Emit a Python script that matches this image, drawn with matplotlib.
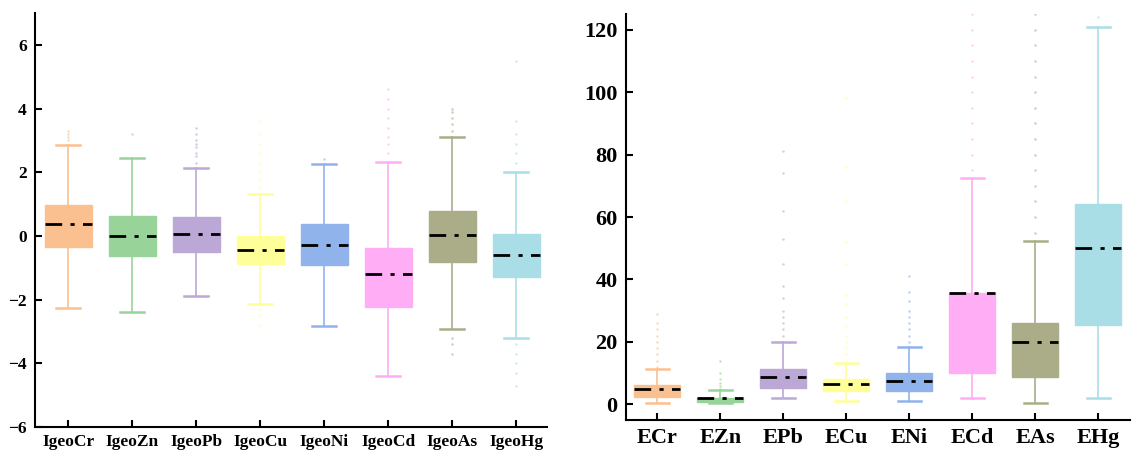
import numpy as np
import matplotlib.pyplot as plt

plt.rcParams['font.family'] = ['Liberation Serif', 'DejaVu Serif']
plt.rcParams['font.weight'] = 'bold'

# left panel: geo-accumulation index
igeo_names = ["IgeoCr", "IgeoZn", "IgeoPb", "IgeoCu", "IgeoNi", "IgeoCd", "IgeoAs", "IgeoHg"]
igeo_q1 = [-0.34, -0.62, -0.50, -0.87, -0.91, -2.22, -0.81, -1.28]
igeo_med = [0.37, 0.00, 0.06, -0.43, -0.29, -1.19, 0.03, -0.60]
igeo_q3 = [0.97, 0.62, 0.60, 0.00, 0.38, -0.38, 0.78, 0.06]
igeo_lo = [-2.25, -2.40, -1.90, -2.13, -2.84, -4.40, -2.93, -3.19]
igeo_hi = [2.86, 2.44, 2.13, 1.31, 2.25, 2.31, 3.10, 2.00]
igeo_out = [
    [3.0, 3.1, 3.2, 3.3],
    [3.2],
    [2.3, 2.5, 2.6, 2.8, 2.9, 3.0, 3.2, 3.4],
    [1.5, 1.8, 2.0, 2.3, 2.6, 2.9, 3.2, 3.6, -2.3, -2.5, -2.8],
    [2.4],
    [2.6, 2.9, 3.1, 3.4, 3.7, 4.0, 4.3, 4.6],
    [3.3, 3.5, 3.7, 3.9, 4.0, -3.2, -3.4, -3.7],
    [2.3, 2.6, 2.9, 3.2, 3.6, 5.5, -3.4, -3.7, -4.0, -4.3, -4.7],
]

# right panel: ecological risk factor
er_names = ["ECr", "EZn", "EPb", "ECu", "ENi", "ECd", "EAs", "EHg"]
er_q1 = [2.3, 0.9, 5.4, 4.2, 4.2, 9.9, 8.9, 25.5]
er_med = [4.8, 1.9, 8.9, 6.4, 7.6, 35.7, 20.1, 50.2]
er_q3 = [6.1, 2.2, 11.2, 8.0, 9.9, 35.7, 26.2, 64.2]
er_lo = [0.6, 0.3, 1.9, 1.0, 1.0, 2.2, 0.3, 2.2]
er_hi = [11.2, 4.5, 20.1, 13.1, 18.5, 72.4, 52.3, 121.0]
er_out = [
    [12, 14, 16, 18, 20, 22, 24, 26, 29],
    [5, 6, 7, 8, 10, 14],
    [22, 24, 26, 28, 30, 34, 38, 45, 53, 62, 74, 81],
    [14, 16, 18, 20, 22, 25, 28, 32, 35, 45, 52, 65, 76, 98],
    [20, 22, 24, 26, 28, 30, 33, 36, 41],
    [75, 80, 85, 90, 95, 100, 105, 110, 115, 120, 125],
    [55, 60, 65, 70, 75, 80, 85, 90, 95, 100, 105, 110, 115, 120, 125],
    [124],
]

colors = ["#FBC08F", "#98D49A", "#BCA8D6", "#FFFF99", "#90B3EC", "#FFADF5", "#AAAD88", "#A9DEE6"]


def draw(ax, q1, med, q3, lo, hi, out, names):
    stats = []
    for i in range(len(names)):
        stats.append(dict(q1=q1[i], med=med[i], q3=q3[i], whislo=lo[i], whishi=hi[i],
                          fliers=out[i], label=names[i]))
    bp = ax.bxp(stats, positions=range(1, len(names) + 1), widths=0.73,
                patch_artist=True, capwidths=0.37, showfliers=True)
    for i, c in enumerate(colors):
        bp['boxes'][i].set_facecolor(c)
        bp['boxes'][i].set_edgecolor(c)
        bp['medians'][i].set(color='black', linestyle=(0, (6, 3, 1.5, 3)), linewidth=2)
        for w in bp['whiskers'][2 * i:2 * i + 2]:
            w.set(color=c, linewidth=1.2)
        for cp in bp['caps'][2 * i:2 * i + 2]:
            cp.set(color=c, linewidth=1.8)
        bp['fliers'][i].set(marker='.', markersize=2, markerfacecolor=c,
                            markeredgecolor=c, alpha=0.4)
    ax.spines['top'].set_visible(False)
    ax.spines['right'].set_visible(False)
    ax.spines['left'].set_linewidth(1.5)
    ax.spines['bottom'].set_linewidth(1.5)
    ax.tick_params(direction='in', length=5, width=1.5)


fig = plt.figure(figsize=(11.36, 4.53), dpi=100)

ax1 = fig.add_axes([0.0308, 0.0574, 0.4507, 0.9139])
draw(ax1, igeo_q1, igeo_med, igeo_q3, igeo_lo, igeo_hi, igeo_out, igeo_names)
ax1.set_xlim(0.48, 8.48)
ax1.set_ylim(-6, 7)
ax1.set_yticks([-6, -4, -2, 0, 2, 4, 6])
ax1.tick_params(labelsize=12.5)
ax1.tick_params(axis='x', pad=5)
ax1.tick_params(axis='y', pad=6)

ax2 = fig.add_axes([0.551, 0.0728, 0.4437, 0.8962])
draw(ax2, er_q1, er_med, er_q3, er_lo, er_hi, er_out, er_names)
ax2.set_xlim(0.5, 8.5)
ax2.set_ylim(-5, 125)
ax2.set_yticks([0, 20, 40, 60, 80, 100, 120])
ax2.tick_params(labelsize=16)
ax2.tick_params(axis='x', pad=6)
ax2.tick_params(axis='y', pad=6)

fig.savefig("out.png", dpi=100)
